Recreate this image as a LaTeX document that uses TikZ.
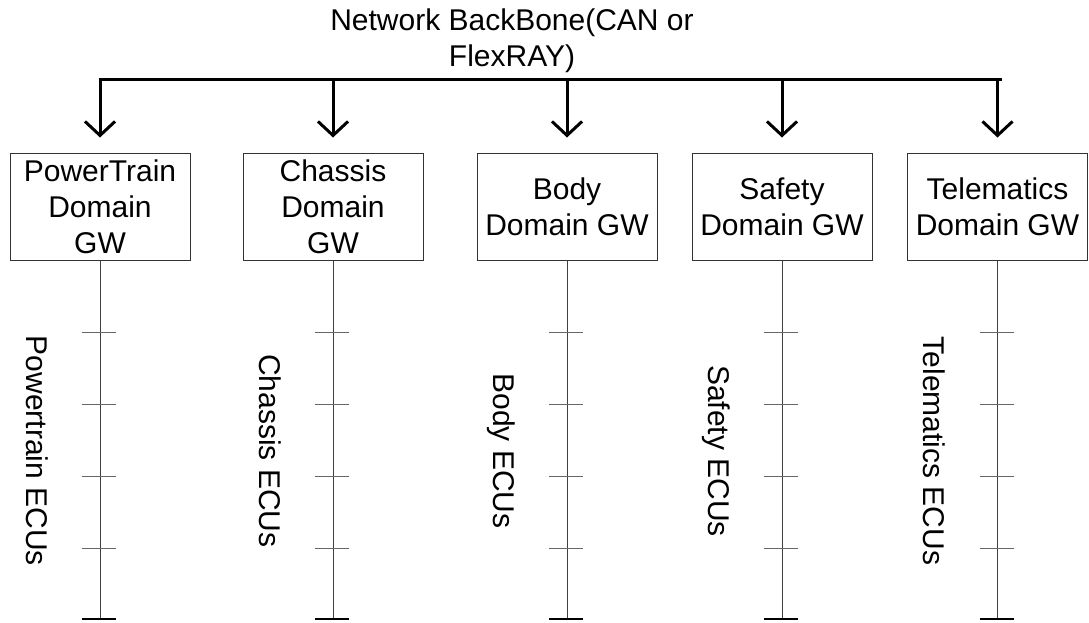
\documentclass[tikz,border=0pt]{standalone}
\usepackage{fontspec}
\setmainfont{Liberation Sans}
\usetikzlibrary{arrows.meta}
\newcommand{\bigtxt}{\fontsize{30}{36}\selectfont}
\begin{document}
\begin{tikzpicture}[x=1pt,y=-1pt,
  gw/.style={draw=black!80, line width=1pt, minimum width=180pt, minimum height=107pt, align=center, inner sep=0pt, font=\bigtxt},
  bus/.style={line width=3pt},
  drop/.style={line width=3pt, -{Straight Barb[length=14pt,width=30pt]}, shorten >=15pt},
  ecu/.style={rotate=-90, anchor=base, font=\bigtxt, inner sep=0pt},
  rail/.style={draw=black!75, line width=1pt},
  tickline/.style={draw=black!60, line width=1pt},
  endline/.style={draw=black, line width=1.6pt},
  title/.style={align=center, font=\bigtxt, inner sep=0pt, anchor=north}]
\useasboundingbox (0,0) rectangle (1089,623);
\node[title] (ttl) at (512,9) {Network BackBone(CAN or\\FlexRAY)};
\coordinate (busL) at (98.5,80);
\coordinate (busR) at (1002,80);
\draw[bus] (busL) -- (busR);
\foreach \n/\x/\txt/\lbl in {pt/100/{PowerTrain\\Domain\\GW}/{Powertrain ECUs},
                              ch/333/{Chassis\\Domain\\GW}/{Chassis ECUs},
                              bo/567/{Body\\Domain GW}/{Body ECUs},
                              sa/782/{Safety\\Domain GW}/{Safety ECUs},
                              te/997.5/{Telematics\\Domain GW}/{Telematics ECUs}}{
  \node[gw] (\n) at (\x,206.5) {\txt};
  \coordinate (\n bus) at (\x,80);
  \draw[drop] (\n bus) -- (\n.north);
  \coordinate (\n end) at (\x,619);
  \draw[rail] (\n.south) -- (\n end);
  \foreach \y in {332,404,476,548}{
    \coordinate (\n tl\y) at (\x-18,\y);
    \coordinate (\n tr\y) at (\x+16,\y);
    \draw[tickline] (\n tl\y) -- (\n tr\y);
  }
  \coordinate (\n el) at (\x-18,619);
  \coordinate (\n er) at (\x+16,619);
  \draw[endline] (\n el) -- (\n er);
  \node[ecu] (\n lbl) at (\x-74,451) {\lbl};
}
\end{tikzpicture}
\end{document}
